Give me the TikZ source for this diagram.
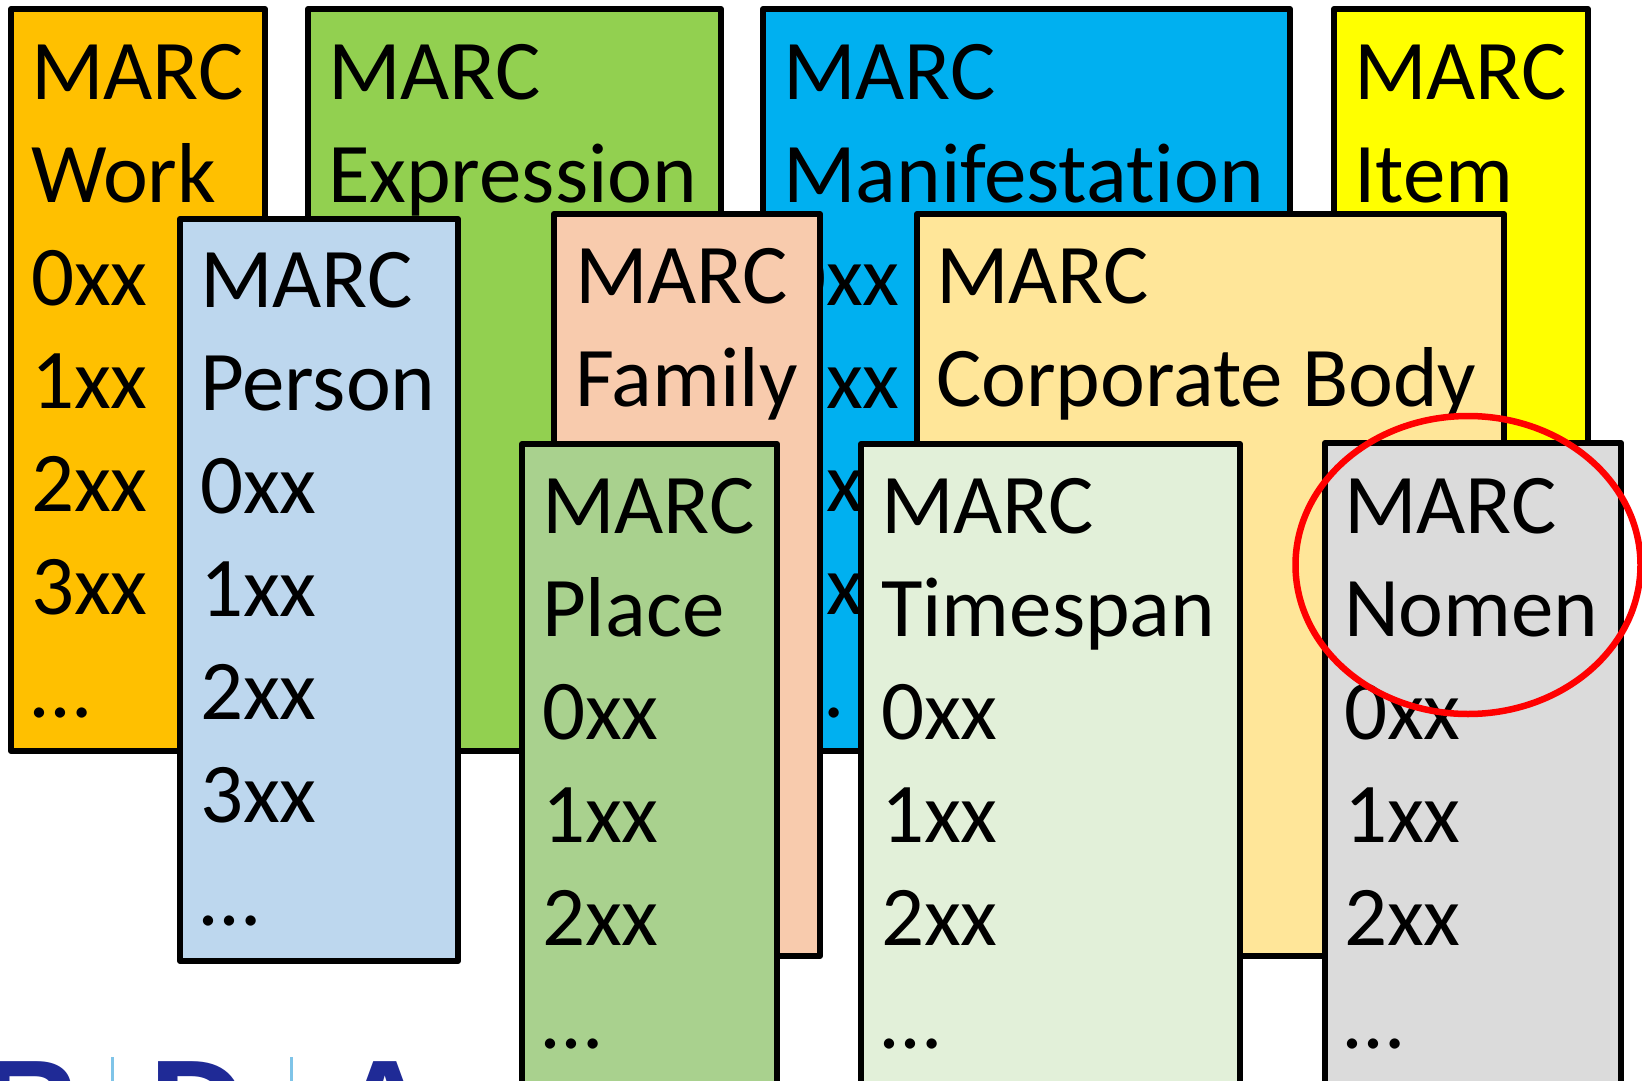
\documentclass[tikz,border=0pt]{standalone}
\usepackage{fontspec}
\setmainfont[Ligatures=CommonOff]{Carlito}
\newfontfamily\logofont{Liberation Sans}
\usetikzlibrary{shapes.geometric}
\definecolor{workcol}{HTML}{FFC000}
\definecolor{exprcol}{HTML}{92D050}
\definecolor{manicol}{HTML}{00B0F0}
\definecolor{itemcol}{HTML}{FFFF00}
\definecolor{perscol}{HTML}{BDD7EE}
\definecolor{famcol}{HTML}{F8CBAD}
\definecolor{corpcol}{HTML}{FFE699}
\definecolor{placecol}{HTML}{A9D18E}
\definecolor{timecol}{HTML}{E2F0D9}
\definecolor{nomcol}{HTML}{DBDBDB}
\definecolor{logocol}{HTML}{1F2A96}
\definecolor{logoline}{HTML}{7FC4E8}
\tikzset{
    entbox/.style={draw=black,line width=6pt,line join=round,anchor=north west,inner sep=0pt,outer sep=0pt},
    enttext/.style={anchor=north west,inner sep=0pt,outer sep=0pt,align=left,font=\fontsize{85}{103}\selectfont},
    logotext/.style={anchor=base,inner sep=0pt,text=logocol,font=\logofont\bfseries\fontsize{135}{135}\selectfont}
}
\begin{document}
\begin{tikzpicture}[x=1pt,y=-1pt]
    \useasboundingbox (0,0) rectangle (1642,1081);
    % back row
    \node[entbox,fill=workcol,minimum width=254pt,minimum height=742pt] (work) at (11,9) {};
    \node[enttext] (worktext) at (31,44) {MARC\\Work\\0xx\\1xx\\2xx\\3xx\\…};
    \node[entbox,fill=exprcol,minimum width=413pt,minimum height=742pt] (expr) at (308,9) {};
    \node[enttext] (exprtext) at (328,44) {MARC\\Expression};
    \node[entbox,fill=manicol,minimum width=527pt,minimum height=742pt] (mani) at (763,9) {};
    \node[enttext] (manitext) at (783,44) {MARC\\Manifestation\\0xx\\1xx\\2xx\\3xx\\…};
    \node[entbox,fill=itemcol,minimum width=254pt,minimum height=742pt] (item) at (1334,9) {};
    \node[enttext] (itemtext) at (1354,44) {MARC\\Item};
    % middle row
    \node[entbox,fill=perscol,minimum width=278pt,minimum height=742pt] (pers) at (180,219) {};
    \node[enttext] (perstext) at (200,252) {MARC\\Person\\0xx\\1xx\\2xx\\3xx\\…};
    \node[entbox,fill=famcol,minimum width=266pt,minimum height=742pt] (fam) at (554,214) {};
    \node[enttext] (famtext) at (575,248) {MARC\\Family};
    \node[entbox,fill=corpcol,minimum width=587pt,minimum height=742pt] (corp) at (917,214) {};
    \node[enttext] (corptext) at (936,248) {MARC\\Corporate Body};
    % front row
    \node[entbox,fill=placecol,minimum width=255pt,minimum height=742pt] (place) at (522,444) {};
    \node[enttext] (placetext) at (542,478) {MARC\\Place\\0xx\\1xx\\2xx\\…};
    \node[entbox,fill=timecol,minimum width=379pt,minimum height=742pt] (time) at (861,444) {};
    \node[enttext] (timetext) at (881,478) {MARC\\Timespan\\0xx\\1xx\\2xx\\…};
    \node[entbox,fill=nomcol,minimum width=296pt,minimum height=742pt] (nom) at (1325,443) {};
    \node[enttext] (nomtext) at (1344,478) {MARC\\Nomen\\0xx\\1xx\\2xx\\…};
    % red ring
    \node[draw=red,line width=6.5pt,ellipse,inner sep=0pt,outer sep=0pt,minimum width=345pt,minimum height=298pt] (ring) at (1468,565) {};
    % logo
    \node[logotext] (logor) at (30,1154) {R};
    \node[logotext] (logod) at (198,1154) {D};
    \node[logotext] (logoa) at (385,1154) {A};
    \coordinate (linea) at (112,1057);
    \coordinate (lineb) at (291,1057);
    \draw[logoline,line width=3pt] (linea) -- ++(0,30);
    \draw[logoline,line width=3pt] (lineb) -- ++(0,30);
\end{tikzpicture}
\end{document}
